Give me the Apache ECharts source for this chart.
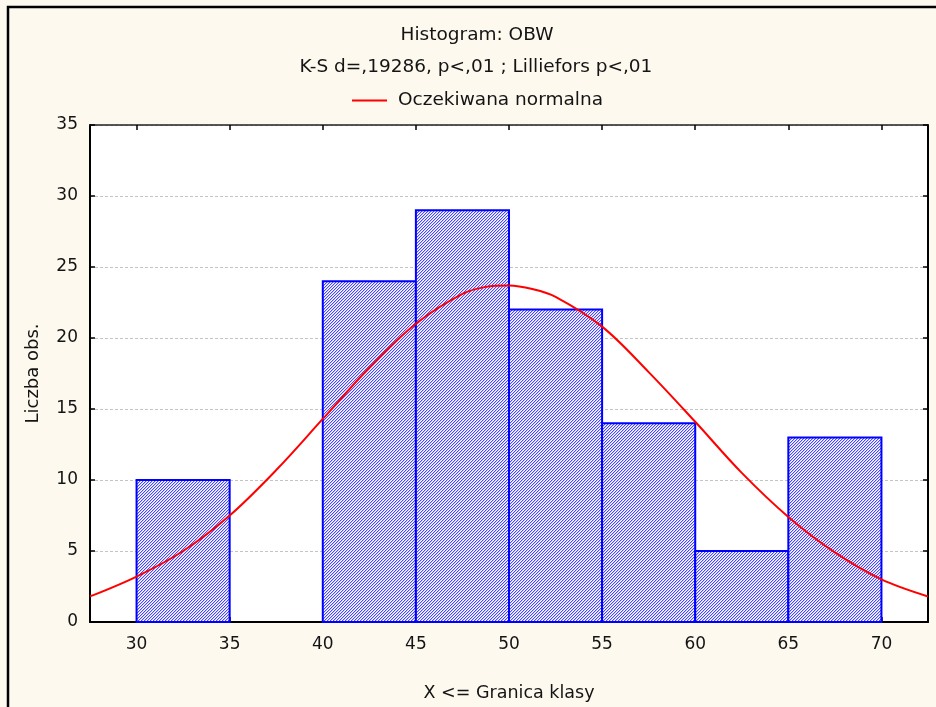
<!DOCTYPE html>
<html>
<head>
<meta charset="utf-8">
<script src="https://cdn.jsdelivr.net/npm/echarts@6/dist/echarts.min.js"></script>
<style>
  html, body { margin: 0; padding: 0; background: #fdf9ef; }
  #chart { width: 936px; height: 707px; }
</style>
</head>
<body>
<div id="chart"></div>
<script>
// Histogram class boundaries and observed counts per class
const binEdges = [30, 35, 40, 45, 50, 55, 60, 65, 70];
const counts = [10, 0, 24, 29, 22, 14, 5, 13];

// Expected normal curve (counts per class width)
const curveX = [27.5, 30, 32.5, 35, 37.5, 40, 42.5, 45, 47.5, 48.75, 50, 51.25, 52.5, 55, 57.5, 60, 62.5, 65, 67.5, 70, 72.5];
const curveY = [1.8, 3.2, 5.0, 7.5, 10.7, 14.3, 17.9, 21.0, 23.1, 23.6, 23.7, 23.45, 22.9, 20.8, 17.6, 14.1, 10.5, 7.4, 4.9, 3.0, 1.8];

// Axis tick values
const xTickValues = [30, 35, 40, 45, 50, 55, 60, 65, 70];
const yTickValues = [0, 5, 10, 15, 20, 25, 30, 35];

const FONT = 'DejaVu Sans';
const TEXT = '#141414';

// Diagonal hatch pattern for the bars
function makeHatch() {
  const c = document.createElement('canvas');
  c.width = 3; c.height = 3;
  const g = c.getContext('2d');
  g.fillStyle = '#ffffff';
  g.fillRect(0, 0, 3, 3);
  g.fillStyle = '#4646ff';
  g.fillRect(2, 0, 1, 1);
  g.fillRect(1, 1, 1, 1);
  g.fillRect(0, 2, 1, 1);
  g.fillStyle = '#c8c8ff';
  g.fillRect(0, 0, 1, 1);
  g.fillRect(2, 1, 1, 1);
  g.fillRect(1, 2, 1, 1);
  return c;
}
const hatch = { image: makeHatch(), repeat: 'repeat' };

const binData = counts.map((c, i) => [binEdges[i], binEdges[i + 1], c]);
const curveData = curveX.map((x, i) => [x, curveY[i]]);

const chart = echarts.init(document.getElementById('chart'), null, { renderer: 'canvas' });

const tickStyle = { inside: true, length: 5, lineStyle: { color: '#000', width: 1.5 } };

chart.setOption({
  backgroundColor: '#fdf9ef',
  animation: false,
  graphic: [
    { type: 'rect', z: -10, silent: true,
      shape: { x: 8, y: 7, width: 1000, height: 800 },
      style: { fill: '#fdf9ef', stroke: '#000', lineWidth: 2.5 } },
    { type: 'text', x: 477, y: 35,
      style: { text: 'Histogram: OBW', font: '18.5px "' + FONT + '"', fill: TEXT, align: 'center', verticalAlign: 'middle' } },
    { type: 'text', x: 476, y: 67,
      style: { text: 'K-S d=,19286, p<,01 ; Lilliefors p<,01', font: '18.5px "' + FONT + '"', fill: TEXT, align: 'center', verticalAlign: 'middle' } }
  ],
  legend: {
    data: ['Oczekiwana normalna'],
    left: 352, top: 91, padding: 0,
    icon: 'rect', itemWidth: 35, itemHeight: 2,
    textStyle: { fontFamily: FONT, fontSize: 18.5, color: TEXT, padding: [0, 0, 0, 6] }
  },
  grid: {
    left: 90, top: 125, right: 8, bottom: 85,
    show: true, backgroundColor: '#ffffff', borderWidth: 0
  },
  xAxis: [
    {
      type: 'value', position: 'bottom', min: 27.5, max: 72.5,
      name: 'X <= Granica klasy', nameLocation: 'middle', nameGap: 62,
      nameTextStyle: { fontFamily: FONT, fontSize: 17.5, color: TEXT },
      axisLine: { show: true, onZero: false, lineStyle: { color: '#000', width: 2 } },
      axisTick: Object.assign({ customValues: xTickValues }, tickStyle),
      axisLabel: { customValues: xTickValues, margin: 14, fontFamily: FONT, fontSize: 17, color: TEXT },
      splitLine: { show: false }
    },
    {
      type: 'value', position: 'top', min: 27.5, max: 72.5,
      axisLine: { show: true, onZero: false, lineStyle: { color: '#222', width: 1.5 } },
      axisTick: Object.assign({ customValues: xTickValues }, tickStyle),
      axisLabel: { show: false },
      splitLine: { show: false }
    }
  ],
  yAxis: [
    {
      type: 'value', position: 'left', min: 0, max: 35, interval: 5,
      name: 'Liczba obs.', nameLocation: 'middle', nameGap: 48, nameRotate: 90,
      nameTextStyle: { fontFamily: FONT, fontSize: 18, color: TEXT },
      axisLine: { show: true, onZero: false, lineStyle: { color: '#000', width: 2 } },
      axisTick: tickStyle,
      axisLabel: { margin: 12, fontFamily: FONT, fontSize: 17, color: TEXT },
      splitLine: { show: true, lineStyle: { color: '#c4c4c4', width: 1, type: [3, 2] } }
    },
    {
      type: 'value', position: 'right', min: 0, max: 35, interval: 5,
      axisLine: { show: true, onZero: false, lineStyle: { color: '#000', width: 2 } },
      axisTick: tickStyle,
      axisLabel: { show: false },
      splitLine: { show: false }
    }
  ],
  series: [
    {
      type: 'custom',
      xAxisIndex: 0, yAxisIndex: 0,
      encode: { x: [0, 1], y: 2 },
      data: binData,
      z: 2,
      renderItem: function (params, api) {
        const v = api.value(2);
        if (!v) return null;
        const topLeft = api.coord([api.value(0), v]);
        const bottomRight = api.coord([api.value(1), 0]);
        return {
          type: 'rect',
          shape: { x: topLeft[0], y: topLeft[1], width: bottomRight[0] - topLeft[0], height: bottomRight[1] - topLeft[1] },
          style: { fill: hatch, stroke: '#0000ff', lineWidth: 2 }
        };
      }
    },
    {
      name: 'Oczekiwana normalna',
      type: 'line',
      xAxisIndex: 0, yAxisIndex: 0,
      data: curveData,
      smooth: 0.35,
      symbol: 'none',
      z: 3,
      itemStyle: { color: '#ff0000' },
      lineStyle: { color: '#ff0000', width: 2 }
    }
  ]
});
</script>
</body>
</html>
